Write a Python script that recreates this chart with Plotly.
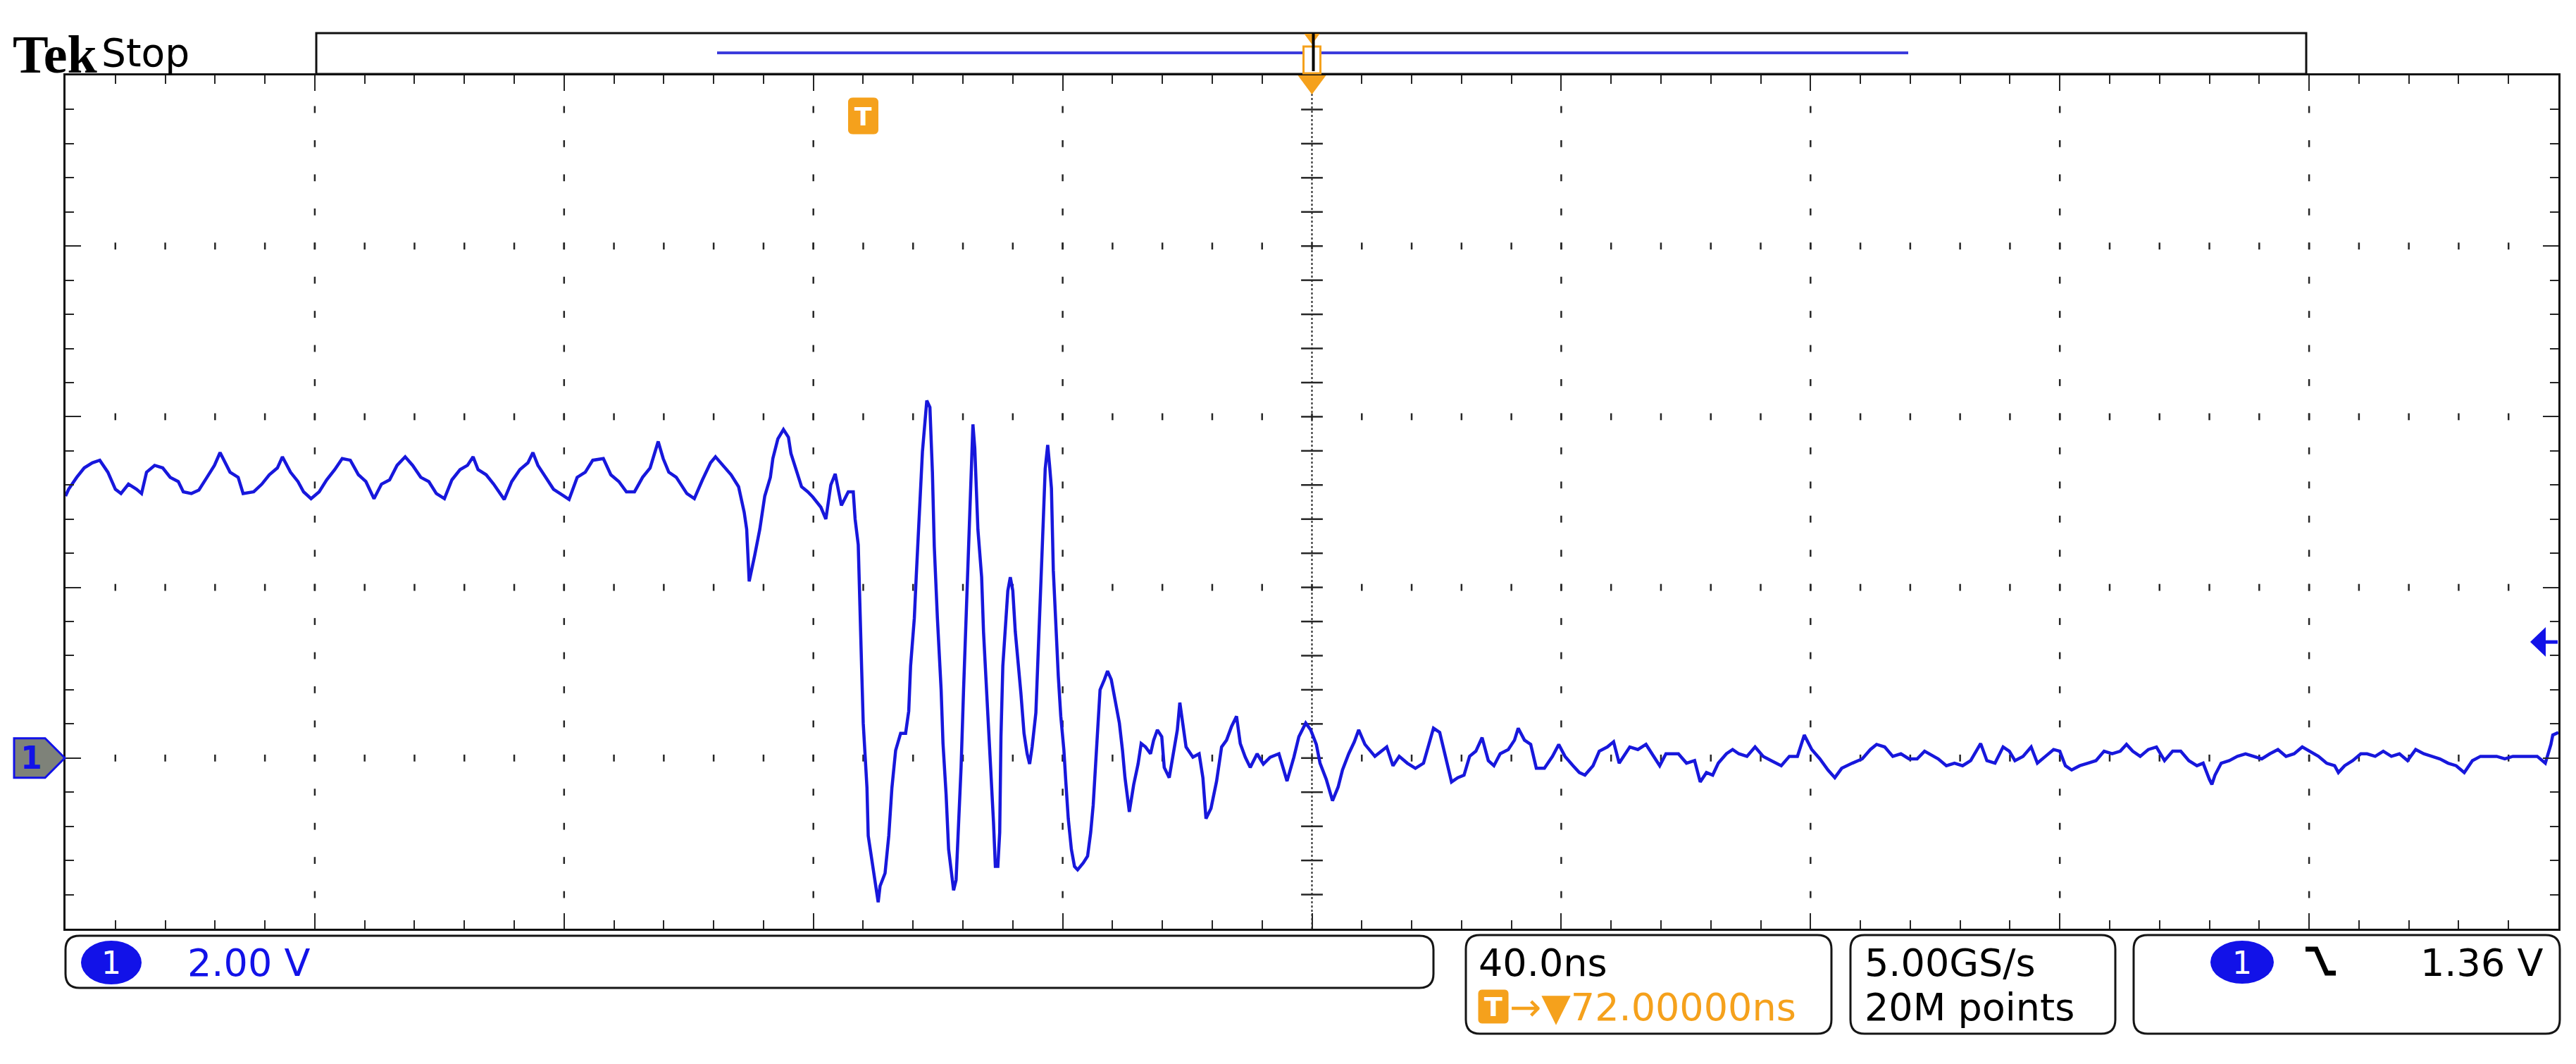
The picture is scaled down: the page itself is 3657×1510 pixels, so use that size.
import plotly.graph_objects as go
import numpy as np

# ---------------- data (time in ns, voltage in V) ----------------
t_pre = [-128.0, -127.5, -126.2, -125.0, -123.7, -122.5, -121.2, -120.0, -119.1, -117.9,
         -116.6, -115.8, -115.0, -113.7, -112.4, -111.2, -109.9, -109.1, -107.8, -106.6,
         -105.3, -104.1, -103.2, -102.4, -101.6, -100.3, -99.5, -97.8, -96.5, -95.3,
         -94.0, -93.2, -91.9, -90.7, -89.8, -88.6, -87.3, -86.1, -84.8, -83.6,
         -82.3, -81.0, -79.8, -78.5, -77.3, -76.0, -74.8, -73.5, -72.3, -71.0,
         -69.7, -68.5, -67.2, -66.0, -64.7, -63.5, -62.6, -61.8, -60.5, -59.3,
         -57.6, -56.4, -55.1, -53.8, -53.0, -52.2, -50.9, -49.7, -48.0, -47.2,
         -45.9, -44.6, -43.4, -41.7, -40.5, -39.2, -38.0, -36.7, -35.4, -34.2,
         -32.9, -32.1, -31.2, -30.0, -28.3, -27.1, -25.8, -24.5, -23.7, -22.5,
         -21.2, -20.0, -19.1, -18.7, -18.3, -17.4, -16.6, -15.8, -14.9, -14.5,
         -13.7, -12.8, -12.0, -11.6, -10.7, -9.9]
v_pre = [3.07, 3.15, 3.29, 3.40, 3.46, 3.49, 3.35, 3.15, 3.10, 3.21,
         3.15, 3.10, 3.35, 3.43, 3.40, 3.29, 3.24, 3.12, 3.10, 3.14,
         3.29, 3.43, 3.58, 3.46, 3.35, 3.29, 3.10, 3.12, 3.21, 3.32,
         3.40, 3.53, 3.35, 3.24, 3.12, 3.04, 3.12, 3.26, 3.38, 3.51,
         3.49, 3.32, 3.24, 3.04, 3.21, 3.26, 3.43, 3.53, 3.43, 3.29,
         3.24, 3.10, 3.04, 3.26, 3.38, 3.43, 3.53, 3.38, 3.32, 3.21,
         3.03, 3.24, 3.38, 3.46, 3.58, 3.43, 3.29, 3.15, 3.07, 3.03,
         3.29, 3.35, 3.49, 3.51, 3.32, 3.24, 3.12, 3.12, 3.29, 3.40,
         3.71, 3.51, 3.35, 3.29, 3.10, 3.04, 3.26, 3.46, 3.53, 3.43,
         3.32, 3.18, 2.88, 2.68, 2.07, 2.38, 2.68, 3.07, 3.29, 3.51,
         3.74, 3.85, 3.76, 3.57, 3.35, 3.18]

t_ring = [-8.9, -8.1, -6.8, -6.0, -5.2, -4.5, -3.5, -2.4, -1.6, -1.3,
          -0.8, -0.5, -0.25, 0.0, 0.6, 0.8, 1.4, 1.9, 2.4, 2.7,
          3.5, 4.1, 4.6, 5.2, 6.0, 6.8, 7.3, 7.6, 8.2, 8.5,
          9.0, 9.5, 10.2, 10.7, 11.1, 11.4, 11.9, 12.5, 12.8, 13.3,
          13.7, 14.1, 14.5, 14.9, 15.3, 15.7, 16.1, 16.6, 17.0, 17.4,
          17.6, 17.9, 18.4, 19.0, 19.3, 19.7, 20.1, 20.6, 20.9, 21.2,
          21.6, 21.9, 22.1, 22.4, 22.8, 23.2, 23.6, 24.0, 24.4, 25.0,
          25.3, 25.8, 26.3, 26.7, 27.1, 27.7, 28.0, 28.5, 28.9, 29.2,
          29.6, 29.9, 30.2, 30.5, 30.9, 31.3, 31.7, 32.2, 32.5, 32.9,
          33.4, 33.9, 34.4, 35.3, 36.0, 36.5, 36.9, 37.3, 37.6, 38.0,
          38.7, 39.2, 39.8, 40.5, 41.1, 41.6, 42.0, 42.7, 43.4, 44.1,
          44.6, 45.3, 46.1, 46.6, 47.2, 47.9, 48.3, 49.1, 49.9, 50.4,
          50.8, 51.2, 51.8, 52.9, 53.9, 54.5, 55.0, 55.8, 56.7, 57.5,
          58.3, 59.1, 59.9, 60.5, 61.3, 62.1, 63.2, 64.2, 65.3, 66.7,
          68.0, 69.1, 69.9, 71.0, 71.8]
v_ring = [3.12, 3.06, 2.94, 2.80, 3.20, 3.33, 2.96, 3.12, 3.12, 2.80,
          2.50, 1.84, 1.04, 0.41, -0.35, -0.91, -1.19, -1.47, -1.69, -1.50,
          -1.35, -0.91, -0.35, 0.09, 0.29, 0.29, 0.55, 1.08, 1.64, 2.12,
          2.84, 3.59, 4.19, 4.11, 3.35, 2.48, 1.64, 0.80, 0.17, -0.43,
          -1.07, -1.31, -1.55, -1.43, -0.79, -0.11, 0.80, 1.84, 2.92, 3.55,
          3.91, 3.63, 2.68, 2.12, 1.48, 0.92, 0.37, -0.21, -0.75, -1.27,
          -1.27, -0.87, 0.25, 1.08, 1.56, 1.96, 2.12, 1.96, 1.48, 1.04,
          0.76, 0.29, 0.05, -0.07, 0.13, 0.53, 1.08, 1.84, 2.80, 3.39,
          3.67, 3.43, 3.16, 2.20, 1.48, 0.96, 0.49, 0.09, -0.27, -0.71,
          -1.07, -1.27, -1.31, -1.23, -1.15, -0.87, -0.55, -0.11, 0.29, 0.80,
          0.92, 1.02, 0.92, 0.65, 0.41, 0.09, -0.23, -0.63, -0.31, -0.07,
          0.17, 0.13, 0.05, 0.21, 0.33, 0.25, -0.11, -0.23, 0.13, 0.33,
          0.65, 0.45, 0.13, 0.01, 0.05, -0.23, -0.71, -0.59, -0.27, 0.13,
          0.21, 0.37, 0.49, 0.17, 0.01, -0.11, 0.05, -0.07, 0.01, 0.05,
          -0.27, 0.01, 0.25, 0.41, 0.33]

t_tail1 = [72.7, 73.3, 74.3, 75.3, 76.2, 76.9, 77.9, 78.8, 79.5, 80.5,
           82.1, 83.1, 84.0, 85.0, 86.0, 87.3, 88.6, 89.9, 90.8, 91.5,
           92.5, 93.4, 94.4, 95.4, 96.4, 97.3, 98.3, 99.3, 100.3, 101.2,
           102.2, 103.5, 104.5, 105.1, 106.1, 107.1, 108.0, 109.3, 110.6, 111.6,
           112.6, 113.9, 114.9, 115.8, 117.1, 118.1, 119.4, 120.4, 121.3, 123.0,
           124.3, 125.6, 126.9, 127.8, 128.8, 130.8, 132.1, 133.4, 134.3, 135.3,
           136.3, 137.2, 138.5, 139.5, 140.5, 141.8, 143.1, 144.4, 145.7, 147.3,
           148.6, 149.9, 151.0, 152.2, 153.5, 154.8, 155.9, 157.0, 158.7, 160.3,
           161.6, 162.6, 163.9, 165.2, 166.5, 167.8, 169.1, 170.3]
v_tail1 = [0.16, -0.06, -0.25, -0.50, -0.34, -0.14, 0.05, 0.19, 0.33, 0.16,
           0.02, 0.08, 0.13, -0.09, 0.02, -0.06, -0.12, -0.06, 0.19, 0.35,
           0.30, 0.02, -0.28, -0.23, -0.20, 0.02, 0.08, 0.24, -0.03, -0.09,
           0.05, 0.10, 0.21, 0.35, 0.21, 0.16, -0.12, -0.12, 0.02, 0.16,
           0.02, -0.09, -0.17, -0.20, -0.09, 0.08, 0.13, 0.19, -0.06, 0.13,
           0.10, 0.16, 0.02, -0.09, 0.05, 0.05, -0.06, -0.03, -0.28, -0.17,
           -0.20, -0.06, 0.05, 0.10, 0.05, 0.02, 0.13, 0.02, -0.03, -0.09,
           0.02, 0.02, 0.27, 0.10, -0.01, -0.14, -0.23, -0.12, -0.06, -0.01,
           0.10, 0.16, 0.13, 0.02, 0.05, -0.01, -0.01, 0.08]

t_tail2 = [172.5, 173.8, 175.1, 176.4, 177.7, 179.3, 180.3, 181.6, 182.9, 183.9,
           184.8, 186.1, 187.4, 188.4, 189.7, 191.0, 192.0, 192.9, 193.9, 195.2,
           196.5, 197.8, 199.1, 200.4, 201.7, 202.7, 203.7, 204.9, 206.2, 207.5,
           208.8, 210.1, 211.4, 212.7, 214.0, 215.0, 216.0, 216.4, 216.9, 217.9,
           219.2, 220.5, 221.8, 223.1, 224.4, 225.7, 227.0, 228.3, 229.6, 230.9,
           232.2, 233.5, 234.8, 236.1, 236.7, 237.7, 239.0, 240.3, 241.3, 242.6,
           243.9, 245.2, 246.5, 247.8, 249.1, 250.4, 251.7, 253.0, 254.3, 255.6,
           256.9, 258.2, 259.5, 260.8, 262.1, 263.4, 264.7, 266.0, 267.3, 268.6,
           269.9, 270.8, 271.1, 272.0]
v_tail2 = [-0.01, -0.09, -0.06, -0.09, -0.03, 0.17, -0.03, -0.06, 0.13, 0.08,
           -0.03, 0.02, 0.13, -0.06, 0.02, 0.10, 0.08, -0.09, -0.14, -0.09,
           -0.06, -0.03, 0.08, 0.05, 0.08, 0.16, 0.08, 0.02, 0.10, 0.13,
           -0.03, 0.08, 0.08, -0.03, -0.09, -0.06, -0.25, -0.31, -0.20, -0.06,
           -0.03, 0.02, 0.05, 0.02, -0.01, 0.05, 0.10, 0.02, 0.05, 0.13,
           0.08, 0.02, -0.06, -0.09, -0.17, -0.09, -0.03, 0.05, 0.05, 0.02,
           0.08, 0.02, 0.05, -0.03, 0.10, 0.05, 0.02, -0.01, -0.06, -0.09,
           -0.17, -0.03, 0.02, 0.02, 0.02, -0.01, 0.02, 0.02, 0.02, 0.02,
           -0.06, 0.16, 0.27, 0.30]

# scope settings / readouts
ns_per_div = 40.0
volts_per_div = 2.0
n_hdiv, n_vdiv = 10, 5
trigger_delay_ns = 72.0          # screen centre time
ground_div_from_bottom = 1
trigger_level_v = 1.36
label_brand = "Tek"
label_state = "Stop"
label_ch_scale = "2.00 V"
label_timebase = "40.0ns"
label_delay = "→▼72.00000ns"
label_rate = "5.00GS/s"
label_points = "20M points"
label_trig_level = "1.36 V"

# ---------------- geometry (page pixels) ----------------
W, H = 3657, 1510
L, R, T, B = 93, 3632, 107, 1318

def px(x):
    return (x - L) / (R - L)

def py(y):
    return (B - y) / (B - T)

def pt(x, y):
    return f"{px(x):.6f},{py(y):.6f}"

BLUE = "#1212e8"
TRACE = "#1717dc"
ORANGE = "#f5a11c"
GRID = "#262626"
FONT = "DejaVu Sans"

x0 = trigger_delay_ns - ns_per_div * n_hdiv / 2
x1 = trigger_delay_ns + ns_per_div * n_hdiv / 2
y0 = -volts_per_div * ground_div_from_bottom
y1 = y0 + volts_per_div * n_vdiv

t_all = t_pre + t_ring + t_tail1 + t_tail2
v_all = v_pre + v_ring + v_tail1 + v_tail2

fig = go.Figure()

# graticule dots
minor_x = ns_per_div / 5
minor_y = volts_per_div / 5
gx_major = [x0 + i * ns_per_div for i in range(1, n_hdiv) if i != n_hdiv // 2]
gy_major = [y0 + j * volts_per_div for j in range(1, n_vdiv)]
gx_minor = [x0 + i * minor_x for i in range(1, n_hdiv * 5)]
gy_minor = [y0 + j * minor_y for j in range(1, n_vdiv * 5)]

dx, dy = [], []
for gx in gx_major:
    for gy in gy_minor:
        dx.append(gx); dy.append(gy)
for gy in gy_major:
    for gx in gx_minor:
        dx.append(gx); dy.append(gy)
fig.add_trace(go.Scatter(x=dx, y=dy, mode="markers", hoverinfo="skip",
                         marker=dict(symbol="line-ns", size=7,
                                     line=dict(width=2.5, color=GRID))))
# centre line ticks
xc = trigger_delay_ns
fig.add_trace(go.Scatter(x=[xc] * len(gy_minor), y=gy_minor, mode="markers", hoverinfo="skip",
                         marker=dict(symbol="line-ew", size=22,
                                     line=dict(width=2.5, color=GRID))))

# waveform
fig.add_trace(go.Scatter(x=t_all, y=v_all, mode="lines", hoverinfo="skip",
                         line=dict(color=TRACE, width=4.5)))

shapes = []
annotations = []

# centre vertical dotted line
shapes.append(dict(type="line", xref="x", yref="y", x0=xc, x1=xc, y0=y0, y1=y1,
                   line=dict(color=GRID, width=2, dash="dot"), layer="below"))


def rounded(xa, ya, xb, yb, r, **kw):
    p = (f"M {pt(xa + r, ya)} L {pt(xb - r, ya)} Q {pt(xb, ya)} {pt(xb, ya + r)} "
         f"L {pt(xb, yb - r)} Q {pt(xb, yb)} {pt(xb - r, yb)} "
         f"L {pt(xa + r, yb)} Q {pt(xa, yb)} {pt(xa, yb - r)} "
         f"L {pt(xa, ya + r)} Q {pt(xa, ya)} {pt(xa + r, ya)} Z")
    shapes.append(dict(type="path", xref="paper", yref="paper", path=p, **kw))


def poly(points, **kw):
    p = "M " + " L ".join(pt(x, y) for x, y in points) + " Z"
    shapes.append(dict(type="path", xref="paper", yref="paper", path=p, **kw))


def text(s, x, y, size, color="black", anchor="left", family=FONT, bold=False):
    annotations.append(dict(text=(f"<b>{s}</b>" if bold else s), xref="paper", yref="paper",
                            x=px(x), y=py(y), xanchor=anchor, yanchor="middle",
                            showarrow=False, font=dict(family=family, size=size, color=color)))

# --- top header ---
text(label_brand, 16, 77, 76, family="Liberation Serif", bold=True)
text(label_state, 142, 75, 55)

# record view box
shapes.append(dict(type="rect", xref="paper", yref="paper", x0=px(449), x1=px(3274),
                   y0=py(105), y1=py(47), line=dict(color="#111", width=3), fillcolor="white"))
shapes.append(dict(type="line", xref="paper", yref="paper", x0=px(1018), x1=px(2709),
                   y0=py(75), y1=py(75), line=dict(color="#3c3cdc", width=4)))
cx = L + (xc - x0) / (x1 - x0) * (R - L)
shapes.append(dict(type="rect", xref="paper", yref="paper", x0=px(cx - 12), x1=px(cx + 12),
                   y0=py(104), y1=py(66), line=dict(color=ORANGE, width=3), fillcolor="white"))
poly([(cx - 11, 48), (cx + 11, 48), (cx, 63)], fillcolor=ORANGE, line=dict(width=0))
shapes.append(dict(type="line", xref="paper", yref="paper", x0=px(cx + 2), x1=px(cx + 2),
                   y0=py(101), y1=py(47), line=dict(color="black", width=4)))
# orange expansion point triangle at top of graticule
poly([(cx - 20, 107), (cx + 20, 107), (cx, 134)], fillcolor=ORANGE, line=dict(width=0))

# trigger position marker (t = 0)
tx = L + (0 - x0) / (x1 - x0) * (R - L)
rounded(tx - 21, 139, tx + 21, 190, 6, fillcolor=ORANGE, line=dict(color=ORANGE, width=1))
text("T", tx, 165, 36, color="white", anchor="center", bold=True)

# channel 1 ground marker
gy_px = B - (0 - y0) / (y1 - y0) * (B - T)
poly([(20, gy_px - 28), (64, gy_px - 28), (92, gy_px), (64, gy_px + 28), (20, gy_px + 28)],
     fillcolor="#7e8279", line=dict(color=BLUE, width=3))
text("1", 44, gy_px, 44, color=BLUE, anchor="center", bold=True)

# trigger level arrow (right)
ty_px = B - (trigger_level_v - y0) / (y1 - y0) * (B - T)
poly([(3592, ty_px), (3614, ty_px - 21), (3614, ty_px + 21)], fillcolor=BLUE, line=dict(width=0))
shapes.append(dict(type="line", xref="paper", yref="paper", x0=px(3612), x1=px(3631),
                   y0=py(ty_px), y1=py(ty_px), line=dict(color=BLUE, width=5)))

# --- bottom readout boxes ---
box_line = dict(color="#151515", width=3)
rounded(93, 1328, 2035, 1402, 20, line=box_line, fillcolor="white")
rounded(2081, 1327, 2600, 1467, 20, line=box_line, fillcolor="white")
rounded(2627, 1327, 3003, 1467, 20, line=box_line, fillcolor="white")
rounded(3029, 1327, 3634, 1467, 20, line=box_line, fillcolor="white")

row1, row2 = 1366, 1429
# box 1
shapes.append(dict(type="circle", xref="paper", yref="paper", x0=px(115), x1=px(201),
                   y0=py(1397), y1=py(1335), fillcolor=BLUE, line=dict(width=0)))
text("1", 158, row1, 44, color="white", anchor="center")
text(label_ch_scale, 264, row1, 54, color=BLUE)
# box 2
text(label_timebase, 2097, row1, 54)
rounded(2099, 1405, 2141, 1452, 5, fillcolor=ORANGE, line=dict(color=ORANGE, width=1))
text("T", 2120, row2, 38, color="white", anchor="center", bold=True)
text(label_delay, 2141, row2, 54, color=ORANGE)
# box 3
text(label_rate, 2645, row1, 54)
text(label_points, 2645, row2, 54)
# box 4
shapes.append(dict(type="circle", xref="paper", yref="paper", x0=px(3138), x1=px(3228),
                   y0=py(1396), y1=py(1335), fillcolor=BLUE, line=dict(width=0)))
text("1", 3183, row1, 44, color="white", anchor="center")
shapes.append(dict(type="path", xref="paper", yref="paper",
                   path=f"M {pt(3273, 1347)} L {pt(3288, 1347)} L {pt(3303, 1381)} L {pt(3316, 1381)}",
                   line=dict(color="black", width=7)))
text(label_trig_level, 3612, row1, 54, anchor="right")

axis_common = dict(showgrid=False, zeroline=False, showticklabels=False, ticks="inside",
                   tickcolor=GRID, tickwidth=2, showline=True, linecolor="#111", linewidth=3,
                   mirror="allticks", fixedrange=True)

fig.update_layout(
    width=W, height=H,
    margin=dict(l=L, r=W - R, t=T, b=H - B, pad=0),
    paper_bgcolor="white", plot_bgcolor="white",
    showlegend=False,
    xaxis=dict(range=[x0, x1], tickmode="linear", tick0=x0, dtick=ns_per_div, ticklen=22,
               minor=dict(ticks="inside", tick0=x0, dtick=minor_x, ticklen=12, tickwidth=2,
                          tickcolor=GRID, showgrid=False),
               **axis_common),
    yaxis=dict(range=[y0, y1], tickmode="linear", tick0=y0, dtick=volts_per_div, ticklen=22,
               minor=dict(ticks="inside", tick0=y0, dtick=minor_y, ticklen=12, tickwidth=2,
                          tickcolor=GRID, showgrid=False),
               **axis_common),
    shapes=shapes,
    annotations=annotations,
)

fig.write_html("out.html", config={"displayModeBar": False, "staticPlot": True},
               post_script="document.body.style.margin='0';document.body.style.overflow='hidden';")
